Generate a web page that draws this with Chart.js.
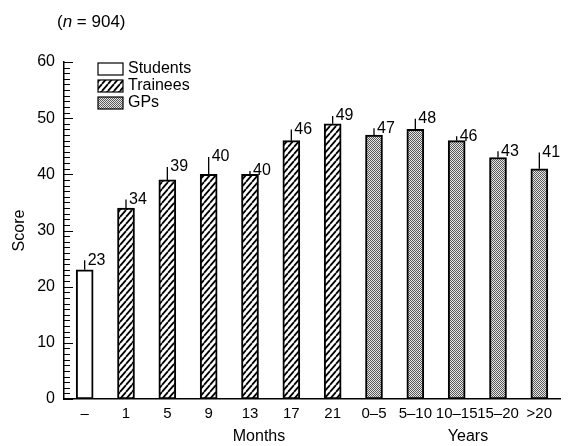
<!DOCTYPE html>
<html>
<head>
<meta charset="utf-8">
<script src="https://cdn.jsdelivr.net/npm/chart.js@4"></script>
<style>
  html, body { margin: 0; padding: 0; background: #fff; }
  #wrap { width: 572px; height: 446px; }
</style>
</head>
<body>
<div id="wrap"><canvas id="chart" width="572" height="446"></canvas></div>
<script>
const categories = ["\u2013", "1", "5", "9", "13", "17", "21", "0\u20135", "5\u201310", "10\u201315", "15\u201320", ">20"];
const students = [23, null, null, null, null, null, null, null, null, null, null, null];
const trainees = [null, 34, 39, 40, 40, 46, 49, null, null, null, null, null];
const gps = [null, null, null, null, null, null, null, 47, 48, 46, 43, 41];
const errorUp = [1.7, 1.5, 2.3, 3.1, 0.6, 2.0, 1.4, 1.2, 1.9, 0.8, 1.1, 2.9];
const valueLabels = ["23", "34", "39", "40", "40", "46", "49", "47", "48", "46", "43", "41"];

const FONT = "'Liberation Sans', Arial, sans-serif";

// fill patterns
const makeHatch = () => {
  const c = document.createElement("canvas");
  c.width = 6;
  c.height = 7;
  const g = c.getContext("2d");
  g.fillStyle = "#fff";
  g.fillRect(0, 0, 6, 7);
  g.strokeStyle = "#000";
  g.lineWidth = 1.8;
  g.beginPath();
  g.moveTo(-6, 7); g.lineTo(0, 0);
  g.moveTo(0, 7); g.lineTo(6, 0);
  g.moveTo(6, 7); g.lineTo(12, 0);
  g.stroke();
  return g.createPattern(c, "repeat");
};

const makeStipple = () => {
  const c = document.createElement("canvas");
  c.width = 2;
  c.height = 2;
  const g = c.getContext("2d");
  g.fillStyle = "#e6e6e6";
  g.fillRect(0, 0, 2, 2);
  g.fillStyle = "#5a5a5a";
  g.fillRect(0, 0, 1, 1);
  g.fillRect(1, 1, 1, 1);
  return g.createPattern(c, "repeat");
};

const hatch = makeHatch();
const stipple = makeStipple();

const legendItems = [
  { text: "Students", fill: "#fff" },
  { text: "Trainees", fill: hatch },
  { text: "GPs", fill: stipple },
];

const extras = {
  id: "extras",
  afterDatasetsDraw(chart) {
    const ctx = chart.ctx;
    const y = chart.scales.y;
    const area = chart.chartArea;
    ctx.save();

    // error bars + value labels
    ctx.strokeStyle = "#000";
    ctx.lineWidth = 1.3;
    ctx.fillStyle = "#000";
    ctx.font = "16px " + FONT;
    ctx.textAlign = "left";
    ctx.textBaseline = "middle";
    const all = [students, trainees, gps];
    categories.forEach((cat, i) => {
      const d = all.findIndex((arr) => arr[i] !== null);
      const bar = chart.getDatasetMeta(d).data[i];
      const v = all[d][i];
      const top = y.getPixelForValue(v + errorUp[i]);
      ctx.beginPath();
      ctx.moveTo(bar.x, bar.y);
      ctx.lineTo(bar.x, top);
      ctx.stroke();
      ctx.fillText(valueLabels[i], bar.x + 3, top);
    });

    // minor/major ticks on the inside of the y axis
    ctx.lineWidth = 1;
    for (let v = 0; v <= 60; v++) {
      const py = Math.round(y.getPixelForValue(v)) + 0.5;
      const len = v % 10 === 0 ? 9 : 6;
      ctx.beginPath();
      ctx.moveTo(area.left, py);
      ctx.lineTo(area.left + len, py);
      ctx.stroke();
    }

    // legend
    ctx.font = "16px " + FONT;
    legendItems.forEach((item, k) => {
      const ly = 63 + k * 17;
      ctx.fillStyle = item.fill;
      ctx.fillRect(98, ly, 25, 12);
      ctx.lineWidth = 1.2;
      ctx.strokeStyle = "#000";
      ctx.strokeRect(98, ly, 25, 12);
      ctx.fillStyle = "#000";
      ctx.fillText(item.text, 128, ly + 6);
    });

    // header and group titles
    ctx.font = "17px " + FONT;
    ctx.textAlign = "left";
    ctx.fillText("(", 57, 22);
    let px = 57 + ctx.measureText("(").width;
    ctx.font = "italic 17px " + FONT;
    ctx.fillText("n", px, 22);
    px += ctx.measureText("n").width;
    ctx.font = "17px " + FONT;
    ctx.fillText(" = 904)", px, 22);

    ctx.font = "16px " + FONT;
    ctx.textAlign = "center";
    ctx.fillText("Months", 259, 437);
    ctx.fillText("Years", 468, 437);
    ctx.restore();
  },
};

const ctx = document.getElementById("chart").getContext("2d");
const myChart = new Chart(ctx, {
  type: "bar",
  data: {
    labels: categories,
    datasets: [
      { label: "Students", data: students, backgroundColor: "#fff" },
      { label: "Trainees", data: trainees, backgroundColor: hatch },
      { label: "GPs", data: gps, backgroundColor: stipple },
    ],
  },
  options: {
    responsive: false,
    animation: false,
    skipNull: true,
    layout: { padding: { top: 62, right: 12, left: 10, bottom: 0 } },
    datasets: {
      bar: {
        barThickness: 17,
        borderColor: "#000",
        borderWidth: 2,
        borderSkipped: false,
      },
    },
    plugins: {
      legend: { display: false },
      tooltip: { enabled: false },
    },
    scales: {
      x: {
        grid: { display: false, drawTicks: false },
        border: { display: true, color: "#000", width: 1.5 },
        ticks: { color: "#000", font: { family: FONT, size: 15 }, padding: 6, maxRotation: 0, autoSkip: false },
        afterFit: (scale) => { scale.height = 47; },
      },
      y: {
        min: 0,
        max: 60,
        grid: { display: false, drawTicks: false },
        border: { display: true, color: "#000", width: 1.5 },
        ticks: { stepSize: 10, color: "#000", font: { family: FONT, size: 16 }, padding: 9 },
        title: { display: true, text: "Score", color: "#000", font: { family: FONT, size: 16 }, padding: { top: 0, bottom: 0 } },
        afterFit: (scale) => { scale.width = 54; },
      },
    },
  },
  plugins: [extras],
});
</script>
</body>
</html>
